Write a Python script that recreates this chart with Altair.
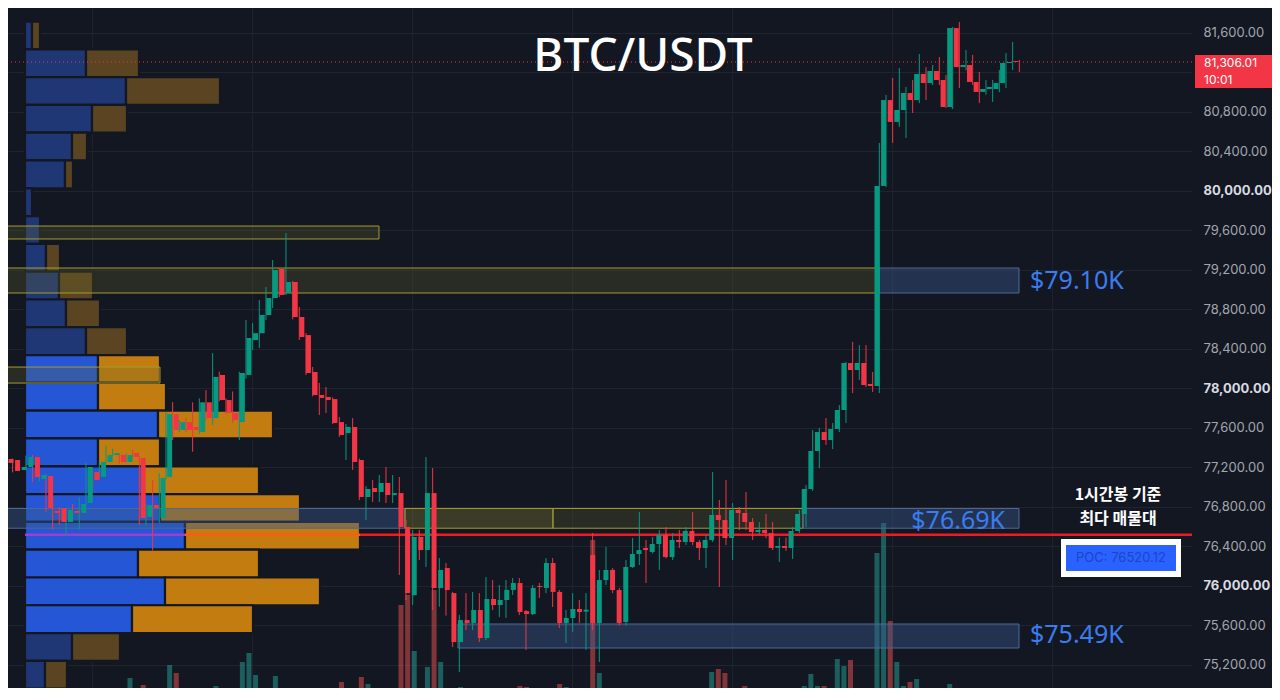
import altair as alt
import pandas as pd

# ---------------- data (1h candles, BTC/USDT) ----------------
opens = [
    77256, 77286, 77276, 77175, 77205, 77306, 77083, 77114, 76760, 76790,
    76648, 76760, 76740, 76840, 77155, 77104, 77256, 77326, 77326, 77256,
    77346, 77296, 76700, 76820, 76688, 77104, 77740, 77580, 77660, 77610,
    77560, 77860, 77700, 78137, 77883, 77752, 77660, 78137, 78490, 78560,
    78744, 78916, 79210, 78967, 79078, 78724, 78541, 78167, 77934, 77914,
    77893, 77660, 77549, 77610, 77276, 76901, 76992, 76952, 77043, 76921,
    76941, 76597, 75907, 76496, 76364, 76941, 75979, 76182, 75928, 75432,
    75655, 75625, 75757, 75473, 75868, 75807, 75858, 75960, 76030, 75746,
    75716, 76000, 75980, 76233, 75940, 75625, 75676, 75767, 75740, 76314,
    75625, 76060, 76162, 75959, 75635, 76192, 76324, 76385, 76344, 76425,
    76516, 76293, 76466, 76445, 76557, 76445, 76385, 76466, 76719, 76668,
    76486, 76770, 76739, 76648, 76546, 76567, 76536, 76387, 76405, 76385,
    76557, 76729, 76982, 77367, 77559, 77478, 77590, 77782, 78258, 78187,
    78258, 78046, 78025, 80051, 80921, 80699, 80820, 80992, 80921, 81185,
    81093, 81215, 81124, 80850, 81650, 81255, 81276, 81104, 81003, 81033,
    81033, 81093, 81296, 81316,
]
highs = [
    77310, 77300, 77290, 77215, 77320, 77330, 77140, 77130, 76870, 76800,
    76780, 76830, 76900, 77250, 77170, 77270, 77420, 77390, 77340, 77340,
    77380, 77310, 76830, 77073, 77140, 77760, 77863, 77680, 77700, 77860,
    77900, 77985, 78360, 78170, 77900, 77970, 78170, 78694, 78663, 78896,
    79028, 79301, 79220, 79574, 79088, 78825, 78560, 78218, 78056, 78015,
    77910, 77711, 77640, 77701, 77290, 77010, 77073, 77124, 77205, 77124,
    77104, 76668, 76567, 76567, 77306, 77195, 76283, 76233, 75940, 75706,
    75928, 75940, 75928, 76091, 76060, 76010, 76060, 76081, 76081, 75757,
    76010, 76030, 76283, 76283, 75959, 75757, 75928, 75858, 75928, 76536,
    76162, 76395, 76182, 75980, 76263, 76486, 76749, 76466, 76496, 76567,
    76597, 76536, 76567, 76597, 76749, 76466, 76516, 77154, 76871, 77073,
    76840, 76800, 76952, 76688, 76648, 76729, 76648, 76490, 76490, 76597,
    76770, 77022, 77579, 77600, 77701, 77650, 77833, 78268, 78471, 78440,
    78440, 78167, 80486, 80972, 81144, 81245, 81053, 81124, 81387, 81255,
    81276, 81357, 81175, 81660, 81711, 81428, 81377, 81205, 81124, 81124,
    81225, 81397, 81509, 81327,
]
lows = [
    77240, 77230, 77150, 77165, 77195, 77050, 77060, 76750, 76570, 76620,
    76515, 76700, 76570, 76820, 76990, 77090, 77250, 77320, 77240, 77250,
    77290, 76620, 76610, 76360, 76640, 77080, 77478, 77560, 77560, 77360,
    77540, 77680, 77630, 77870, 77740, 77650, 77478, 78100, 78390, 78410,
    78694, 78815, 78926, 78947, 78700, 78491, 78137, 77920, 77731, 77752,
    77640, 77510, 77276, 77175, 76870, 76668, 76850, 76850, 76840, 76840,
    76111, 75858, 75807, 76263, 76192, 75756, 75790, 75700, 75382, 75129,
    75554, 75554, 75432, 75452, 75756, 75686, 75676, 75909, 75706, 75352,
    75706, 75878, 75928, 75787, 75574, 75422, 75534, 75625, 75352, 75554,
    75230, 76010, 75928, 75600, 75600, 76182, 76213, 76030, 76330, 76162,
    76280, 76263, 76385, 76415, 76415, 76263, 76182, 76445, 75990, 76415,
    76263, 76566, 76566, 76466, 76516, 76485, 76364, 76243, 76355, 76273,
    76536, 76597, 76962, 77194, 77428, 77387, 77559, 77650, 77954, 78086,
    78015, 77964, 77954, 80040, 80486, 80648, 80537, 80790, 80890, 80921,
    81073, 81073, 80840, 80830, 81043, 81220, 81073, 80890, 80975, 80901,
    81000, 81043, 81225, 81205,
]
closes = [
    77296, 77246, 77165, 77205, 77306, 77104, 77124, 76790, 76740, 76648,
    76770, 76740, 76830, 77205, 77073, 77256, 77326, 77346, 77256, 77326,
    77306, 76688, 76820, 76790, 77094, 77740, 77580, 77660, 77580, 77580,
    77860, 77700, 78117, 77883, 77752, 77680, 78157, 78511, 78560, 78744,
    78916, 79200, 78947, 79078, 78724, 78521, 78157, 77934, 77904, 77883,
    77650, 77529, 77610, 77256, 76901, 76982, 76952, 77043, 76921, 76941,
    76597, 75928, 76496, 76364, 76941, 75979, 76162, 75959, 75432, 75655,
    75625, 75757, 75473, 75868, 75807, 75858, 75960, 76030, 75736, 75716,
    75980, 75990, 76233, 75940, 75625, 75676, 75767, 75736, 75760, 75625,
    76060, 76162, 75959, 75625, 76192, 76324, 76364, 76364, 76425, 76516,
    76293, 76466, 76445, 76557, 76445, 76385, 76466, 76719, 76668, 76486,
    76770, 76739, 76648, 76546, 76567, 76536, 76385, 76405, 76385, 76557,
    76729, 76982, 77367, 77559, 77478, 77590, 77782, 78258, 78187, 78258,
    78035, 78025, 80051, 80921, 80699, 80820, 80992, 80921, 81185, 81093,
    81215, 81124, 80850, 81650, 81255, 81276, 81104, 81003, 81033, 81054,
    81093, 81296, 81306, 81306,
]
volumes = [
    40, 40, 40, 40, 60, 60, 40, 40, 80, 40,
    40, 40, 40, 80, 40, 40, 40, 40, 40, 440,
    100, 300, 60, 240, 100, 700, 540, 40, 40, 40,
    40, 80, 280, 60, 40, 40, 760, 940, 500, 220,
    220, 480, 40, 180, 140, 60, 60, 40, 60, 40,
    60, 360, 60, 60, 460, 320, 40, 160, 60, 60,
    1900, 2100, 980, 160, 660, 2200, 760, 80, 60, 260,
    40, 40, 40, 40, 40, 40, 40, 40, 280, 260,
    40, 40, 60, 140, 320, 260, 140, 40, 200, 3200,
    540, 60, 40, 80, 100, 60, 200, 60, 40, 40,
    40, 40, 40, 40, 40, 40, 40, 560, 620, 540,
    40, 140, 280, 40, 40, 40, 40, 40, 40, 40,
    140, 280, 520, 280, 280, 60, 820, 680, 800, 40,
    120, 60, 2940, 3540, 1580, 760, 280, 360, 420, 180,
    40, 40, 180, 320, 120, 40, 40, 40, 40, 40,
    40, 40, 40, 40,
]

# volume profile (visible range): row price edges, up / down volume per row
profile_edges = [81716, 81435, 81153, 80872, 80590, 80309, 80027, 79746, 79464,
                 79183, 78901, 78620, 78338, 78057, 77775, 77494, 77212, 76931,
                 76649, 76368, 76086, 75805, 75523, 75242, 74960]
profile_up = [14, 122, 202, 134, 94, 80, 14, 30, 42, 68, 82, 122,
              146, 146, 266, 146, 236, 270, 320, 226, 280, 214, 94, 40]
profile_down = [16, 106, 188, 70, 30, 16, 0, 0, 28, 68, 68, 82,
                124, 136, 230, 124, 232, 280, 350, 242, 310, 242, 96, 44]
value_area_rows = list(range(12, 22))
poc_row = 18
poc_price = 76520.12
last_price = 81306.01
last_time = "10:01"

price_ticks = list(range(75200, 81601, 400))
day_marks = [14, 38, 62, 86, 110, 134, 158]

zone_k0 = [0.1, 0.1, 132.0, 0.1, 0.1, 60.85, 83.05, 120.55, 68.8]
zone_k1 = [56.95, 132.0, 152.95, 24.1, 60.85, 83.05, 120.55, 152.95, 152.95]
zone_top = [79645, 79220, 79220, 78217, 76785, 76785, 76785, 76785, 75615]
zone_bottom = [79514, 78967, 78967, 78055, 76585, 76585, 76585, 76585, 75372]
zone_kind = ["y", "y", "b", "y", "b", "yb", "y", "b", "b"]

label_texts = ["$79.10K", "$76.69K", "$75.49K"]
label_k = [154.6, 150.85, 154.6]
label_price = [79093, 76660, 75505]
label_align = ["left", "right", "left"]

# ---------------- styling ----------------
BG = "#131722"
GRID = "#20242f"
GREEN = "#089981"
RED = "#f23645"
K_DOMAIN = [1.305, 178.9]
P_DOMAIN = [74967, 81853]
PROF_DOMAIN = [-34, 2334]
VOL_DOMAIN = [240, 13840]


def kx(field="k"):
    return alt.X(f"{field}:Q", scale=alt.Scale(domain=K_DOMAIN, nice=False, zero=False), axis=None)


def py(field, axis=None):
    return alt.Y(f"{field}:Q", scale=alt.Scale(domain=P_DOMAIN, nice=False, zero=False), axis=axis)


candles = pd.DataFrame({
    "k": list(range(len(opens))),
    "open": opens, "high": highs, "low": lows, "close": closes, "volume": volumes,
})
candles["dir"] = ["up" if c >= o else "down" for o, c in zip(opens, closes)]
dir_color = alt.Color("dir:N", scale=alt.Scale(domain=["up", "down"], range=[GREEN, RED]), legend=None)
vol_color = alt.Color("dir:N", scale=alt.Scale(domain=["up", "down"], range=["#26a69a", "#ef5350"]), legend=None)

base = alt.Chart(candles)

# the label hidden under the current-price tag is left blank, as on the platform
price_axis = alt.Axis(
    orient="right", values=price_ticks, title=None,
    labelExpr=f"abs(datum.value - {last_price}) < 250 ? '' : format(datum.value, ',.2f')",
    domain=False, ticks=False, labelPadding=11, labelAlign="left",
    labelFont="Inter", labelFontSize=13,
    labelColor=alt.condition("datum.value % 2000 === 0", alt.value("#d9dbe1"), alt.value("#a3a6af")),
    labelFontWeight=alt.condition("datum.value % 2000 === 0", alt.value("bold"), alt.value("normal")),
    grid=True, gridColor=GRID, gridWidth=1,
)

grid_v = alt.Chart(pd.DataFrame({"k": day_marks})).mark_rule(color=GRID, strokeWidth=1).encode(x=kx())

vol = base.mark_bar(size=5, clip=True, opacity=0.5).encode(
    x=kx(),
    y=alt.Y("volume:Q", scale=alt.Scale(domain=VOL_DOMAIN, nice=False, zero=False), axis=None),
    y2=alt.datum(0),
    color=vol_color,
)

prof_rows = []
for i in range(len(profile_up)):
    va = i in value_area_rows
    prof_rows.append(dict(top=profile_edges[i], low=profile_edges[i + 1], x0=0,
                          x1=profile_up[i], cat="up_va" if va else "up"))
    if profile_down[i] > 0:
        prof_rows.append(dict(top=profile_edges[i], low=profile_edges[i + 1], x0=profile_up[i],
                              x1=profile_up[i] + profile_down[i], cat="down_va" if va else "down"))
prof_df = pd.DataFrame(prof_rows)
pscale = alt.Scale(domain=PROF_DOMAIN, nice=False, zero=False)
profile = alt.Chart(prof_df).mark_rect(stroke=BG, strokeWidth=2.2).encode(
    x=alt.X("x0:Q", scale=pscale, axis=None), x2="x1:Q",
    y=py("top"), y2="low:Q",
    color=alt.Color("cat:N", scale=alt.Scale(domain=["up_va", "down_va", "up", "down"],
                                             range=["#2456d6", "#c27c10", "#1f3775", "#5a4421"]), legend=None),
)

zones = pd.DataFrame({"k0": zone_k0, "k1": zone_k1, "top": zone_top, "bottom": zone_bottom, "kind": zone_kind})
zone_layer = alt.Chart(zones).mark_rect(strokeWidth=1).encode(
    x=kx("k0"), x2="k1:Q", y=py("top"), y2="bottom:Q",
    fill=alt.Fill("kind:N", scale=alt.Scale(domain=["y", "yb", "b"], range=["#6b6a2a", "#8a8634", "#3a5a90"]), legend=None),
    fillOpacity=alt.FillOpacity("kind:N", scale=alt.Scale(domain=["y", "yb", "b"], range=[0.25, 0.42, 0.22]), legend=None),
    stroke=alt.Stroke("kind:N", scale=alt.Scale(domain=["y", "yb", "b"], range=["#a39c2e", "#a39c2e", "#4f6994"]), legend=None),
)

u, d = profile_up[poc_row], profile_down[poc_row]
poc_df = pd.DataFrame({"x0": [0, u, u + d], "x1": [u, u + d, PROF_DOMAIN[1]], "p": [poc_price] * 3,
                       "c": ["#9b3fd0", "#ff5a10", "#ec1c24"]})
poc_line = alt.Chart(poc_df).mark_rule(strokeWidth=2.5).encode(
    x=alt.X("x0:Q", scale=pscale, axis=None), x2="x1:Q", y=py("p"),
    color=alt.Color("c:N", scale=None),
)

wick = base.mark_rule(strokeWidth=1).encode(x=kx(), y=py("low", price_axis), y2="high:Q", color=dir_color)
body = base.mark_bar(size=5).encode(x=kx(), y=py("open"), y2="close:Q", color=dir_color)

last_line = alt.Chart(pd.DataFrame({"p": [last_price]})).mark_rule(
    color=RED, strokeDash=[1, 3], strokeWidth=1).encode(y=py("p"))

labels_df = pd.DataFrame({"t": label_texts, "k": label_k, "p": label_price, "a": label_align})
lab_left = alt.Chart(labels_df[labels_df.a == "left"]).mark_text(
    font="Noto Sans", fontSize=25, color="#3b7cf0", align="left", baseline="middle").encode(
    x=kx(), y=py("p"), text="t:N")
lab_right = alt.Chart(labels_df[labels_df.a == "right"]).mark_text(
    font="Noto Sans", fontSize=25, color="#3b7cf0", align="right", baseline="middle").encode(
    x=kx(), y=py("p"), text="t:N")


def text_at(txt, x, y, **kw):
    return alt.Chart(pd.DataFrame({"t": [txt]})).mark_text(**kw).encode(
        text="t:N", x=alt.value(x), y=alt.value(y))


def box(x0, x1, y0, y1, color):
    return alt.Chart(pd.DataFrame({"a": [1]})).mark_rect(color=color).encode(
        x=alt.value(x0), x2=alt.value(x1), y=alt.value(y0), y2=alt.value(y1))


title = text_at("BTC/USDT", 635, 49, font="Noto Sans", fontSize=46, fontWeight=500,
                color="#ffffff", align="center", baseline="middle")
kor1 = text_at("1시간봉 기준", 1110, 487, font="Noto Sans CJK KR", fontSize=16, fontWeight="bold",
               color="#ffffff", align="center", baseline="middle")
kor2 = text_at("최다 매물대", 1110, 511, font="Noto Sans CJK KR", fontSize=16, fontWeight="bold",
               color="#ffffff", align="center", baseline="middle")
poc_outer = box(1053, 1173, 531, 569, "#ffffff")
poc_inner = box(1058, 1168, 537, 563, "#2962ff")
poc_text = text_at(f"POC: {poc_price:.2f}", 1113, 550, font="Inter", fontSize=13,
                   color="#1d46c4", align="center", baseline="middle")
price_box = box(1187, 1264, 47, 80, RED)
price_txt = text_at(f"{last_price:,.2f}", 1196, 55, font="Inter", fontSize=12, color="#ffffff",
                    align="left", baseline="middle")
time_txt = text_at(last_time, 1196, 72, font="Inter", fontSize=12, color="#ffffff",
                   align="left", baseline="middle")

chart = alt.layer(
    grid_v, vol, profile, zone_layer, poc_line, wick, body, last_line,
    lab_left, lab_right, title, kor1, kor2, poc_outer, poc_inner, poc_text,
    price_box, price_txt, time_txt,
).resolve_scale(x="independent", y="independent", color="independent",
                fill="independent", stroke="independent").properties(
    width=1184, height=680, background=BG,
    padding={"left": 0, "top": 0, "right": 80, "bottom": 0},
    autosize=alt.AutoSizeParams(type="none"),
).configure_view(strokeWidth=0)

chart.save("out.html", embed_options={"renderer": "svg", "actions": False})
